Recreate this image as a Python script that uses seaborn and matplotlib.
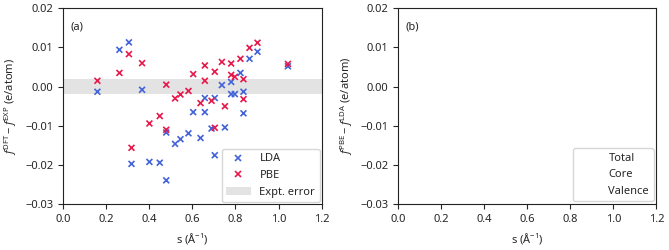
import matplotlib
matplotlib.use("Agg")
import matplotlib.pyplot as plt
import seaborn as sns
import pandas as pd

# scattering vector s (1/Angstrom), shared by both functionals
s_vals = [0.160, 0.262, 0.306, 0.318, 0.367, 0.401, 0.449, 0.479, 0.479, 0.520,
          0.545, 0.582, 0.604, 0.638, 0.658, 0.658, 0.689, 0.704, 0.704, 0.737,
          0.751, 0.780, 0.780, 0.797, 0.823, 0.837, 0.837, 0.865, 0.902, 1.043]
# f_DFT - f_EXP (e/atom)
lda_diff = [-0.0013, 0.0094, 0.0113, -0.0197, -0.0008, -0.0192, -0.0194, -0.0239, -0.0117, -0.0146,
            -0.0134, -0.0119, -0.0065, -0.0131, -0.0065, -0.0029, -0.0107, -0.0029, -0.0175, 0.0004,
            -0.0104, 0.0012, -0.0019, -0.0019, 0.0035, -0.0013, -0.0068, 0.0071, 0.0089, 0.0052]
pbe_diff = [0.0015, 0.0035, 0.0083, -0.0156, 0.0060, -0.0094, -0.0075, 0.0005, -0.0110, -0.0030,
            -0.0020, -0.0011, 0.0032, -0.0042, 0.0054, 0.0015, -0.0036, 0.0038, -0.0105, 0.0063,
            -0.0050, 0.0059, 0.0030, 0.0025, 0.0071, 0.0019, -0.0032, 0.0099, 0.0112, 0.0058]
expt_err = 0.002
legend_b = ["Total", "Core", "Valence"]

sns.set_style("ticks")
plt.rcParams["font.family"] = ["Noto Sans", "DejaVu Sans"]
plt.rcParams["mathtext.fontset"] = "custom"
plt.rcParams["mathtext.rm"] = "Noto Sans"
plt.rcParams["mathtext.it"] = "Noto Sans:italic"
plt.rcParams["font.size"] = 8

df = pd.DataFrame({
    "s": s_vals * 2,
    "diff": lda_diff + pbe_diff,
    "method": ["LDA"] * len(s_vals) + ["PBE"] * len(s_vals),
})
colors = {"LDA": "#4363d8", "PBE": "#e6194b"}

fig = plt.figure(figsize=(6.69, 2.5), dpi=100)
ax1 = fig.add_axes([0.094, 0.183, 0.387, 0.784])
ax2 = fig.add_axes([0.595, 0.183, 0.386, 0.784])

band = ax1.axhspan(-expt_err, expt_err, color="#e3e3e3", lw=0, zorder=0, label="Expt. error")
sns.scatterplot(data=df, x="s", y="diff", hue="method", palette=colors, marker="x",
                s=18, linewidth=1.2, ax=ax1, zorder=3)
h, l = ax1.get_legend_handles_labels()
ax1.legend(h[1:] + h[:1], l[1:] + l[:1], loc="lower right", fontsize=8, frameon=True,
           borderaxespad=0.2, handlelength=2.2)
ax1.text(0.03, 0.93, "(a)", transform=ax1.transAxes, fontsize=8, va="top")
ax1.set_ylabel(r"$f^{\rm DFT} - f^{\rm EXP}$ (e/atom)")

for lab in legend_b:
    ax2.plot([], [], color="none", label=lab)
ax2.legend(loc="lower right", fontsize=8, frameon=True, borderaxespad=0.25)
ax2.text(0.03, 0.93, "(b)", transform=ax2.transAxes, fontsize=8, va="top")
ax2.set_ylabel(r"$f^{\rm PBE} - f^{\rm LDA}$ (e/atom)")

for ax in (ax1, ax2):
    ax.set_xlim(0, 1.2)
    ax.set_ylim(-0.03, 0.02)
    ax.set_xticks([0.0, 0.2, 0.4, 0.6, 0.8, 1.0, 1.2])
    ax.set_yticks([-0.03, -0.02, -0.01, 0.0, 0.01, 0.02])
    ax.set_xlabel(r"s (Å$^{-1}$)")
    ax.tick_params(labelsize=8)
    for sp in ax.spines.values():
        sp.set_visible(True)
        sp.set_color("#222222")

fig.savefig("out.png", dpi=100)
